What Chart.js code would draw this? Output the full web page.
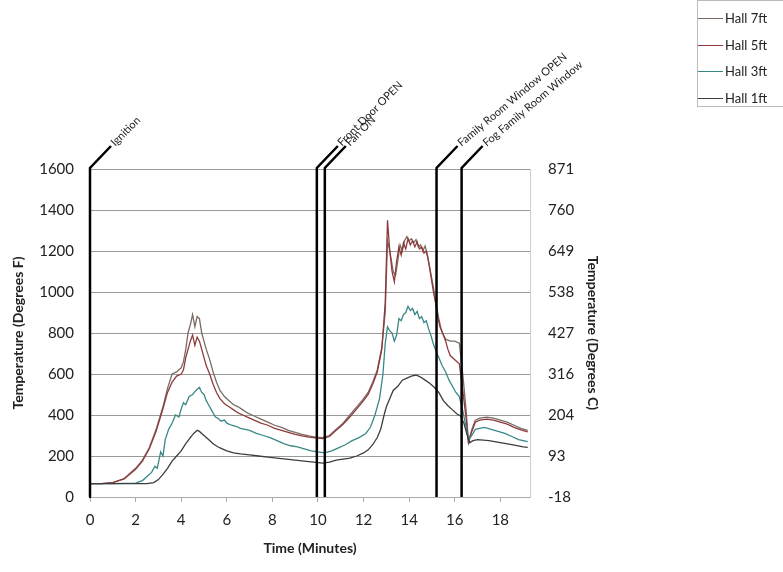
<!DOCTYPE html>
<html>
<head>
<meta charset="utf-8">
<script src="https://cdn.jsdelivr.net/npm/chart.js@4"></script>
<style>
  body { margin:0; background:#fff; }
  #wrap { position:relative; width:783px; height:572px; }
  #legend {
    position:absolute; left:697px; top:0; width:90px; height:107px;
    border:1px solid #bbb; box-sizing:border-box;
    font-family:Lato, sans-serif; font-size:13px; color:#222;
  }
  .item { position:absolute; left:0; display:flex; align-items:center; }
  .item span.ln { display:inline-block; width:25px; height:0; border-top:1.5px solid #555; margin-right:2px; }
</style>
</head>
<body>
<div id="wrap">
  <canvas id="c" width="783" height="572"></canvas>
  <div id="legend"></div>
</div>
<script>
// ── data ────────────────────────────────────────────────
const seriesNames = ['Hall 7ft', 'Hall 5ft', 'Hall 3ft', 'Hall 1ft'];
const seriesColors = ['#7a6c64', '#8e3a3a', '#3a8787', '#3d3d3d'];

const t7 = [0,0.5,1,1.5,2,2.3,2.6,2.9,3.2,3.4,3.6,3.8,4,4.1,4.2,4.3,4.4,4.5,4.6,4.7,4.8,4.9,5,5.1,5.25,5.4,5.55,5.7,5.9,6.1,6.3,6.5,6.7,6.9,7.2,7.5,7.8,8.1,8.4,8.7,9,9.3,9.6,9.9,10.2,10.5,10.8,11.1,11.4,11.7,12,12.2,12.4,12.6,12.8,12.95,13.05,13.15,13.3,13.4,13.5,13.6,13.7,13.8,13.9,14,14.1,14.2,14.3,14.4,14.5,14.6,14.7,14.8,14.9,15,15.1,15.2,15.3,15.4,15.5,15.6,15.8,16,16.2,16.35,16.5,16.6,16.75,16.9,17.1,17.4,17.7,18,18.3,18.6,18.9,19.2];
const f7 = [65,65,70,90,140,180,240,330,440,530,600,610,630,660,720,800,840,890,830,880,870,800,760,720,670,610,560,520,490,470,450,440,425,410,395,380,365,350,340,325,315,305,298,292,290,300,330,360,400,440,480,510,560,620,730,900,1250,1200,1100,1080,1150,1230,1200,1250,1270,1250,1260,1240,1255,1220,1230,1200,1225,1180,1120,1060,1000,930,870,820,790,770,760,760,750,600,420,270,330,375,385,390,385,375,365,350,335,325];

const t5 = [0,0.5,1,1.5,2,2.3,2.6,2.9,3.2,3.4,3.6,3.8,4,4.1,4.2,4.3,4.4,4.5,4.6,4.7,4.8,4.9,5,5.1,5.25,5.4,5.55,5.7,5.9,6.1,6.3,6.5,6.7,6.9,7.2,7.5,7.8,8.1,8.4,8.7,9,9.3,9.6,9.9,10.2,10.5,10.8,11.1,11.4,11.7,12,12.2,12.4,12.6,12.8,12.95,13.05,13.15,13.25,13.35,13.45,13.55,13.65,13.75,13.85,13.95,14.05,14.15,14.25,14.35,14.45,14.55,14.65,14.75,14.85,14.95,15.05,15.15,15.25,15.35,15.5,15.6,15.7,15.8,16,16.2,16.35,16.5,16.6,16.75,16.9,17.1,17.4,17.7,18,18.3,18.6,18.9,19.2];
const f5 = [65,65,70,88,135,175,235,320,430,510,560,590,600,620,680,720,760,790,740,780,760,720,680,640,600,550,510,480,455,440,425,410,400,390,375,360,350,335,325,315,305,298,292,288,285,295,325,355,390,430,470,500,550,610,720,950,1350,1200,1100,1050,1150,1220,1180,1240,1210,1260,1230,1250,1220,1245,1210,1220,1190,1200,1150,1080,1010,950,880,830,790,760,720,690,670,650,520,380,265,320,365,375,380,375,365,355,340,328,318];

const t3 = [0,1,2,2.3,2.5,2.7,2.85,2.95,3.1,3.2,3.3,3.45,3.6,3.75,3.9,4,4.1,4.2,4.35,4.5,4.65,4.8,4.9,5,5.1,5.2,5.35,5.5,5.6,5.75,5.9,6,6.2,6.4,6.6,6.8,7,7.3,7.6,7.9,8.2,8.5,8.8,9.1,9.4,9.7,10,10.3,10.6,10.9,11.2,11.5,11.8,12.1,12.3,12.5,12.7,12.85,12.95,13.05,13.15,13.25,13.35,13.45,13.55,13.65,13.75,13.85,13.95,14.05,14.15,14.25,14.35,14.45,14.55,14.65,14.75,14.85,14.95,15.05,15.15,15.3,15.45,15.6,15.75,15.9,16.05,16.2,16.35,16.5,16.6,16.75,16.9,17.1,17.3,17.6,17.9,18.2,18.5,18.8,19.2];
const f3 = [65,65,68,80,100,120,150,140,220,200,280,330,360,400,390,430,460,450,490,500,520,535,510,500,470,450,420,390,385,370,375,360,350,345,335,330,325,310,300,290,275,260,250,245,235,225,220,215,225,240,255,275,290,310,340,400,480,600,750,830,810,800,760,790,870,860,890,900,930,910,920,890,905,870,880,850,860,820,790,750,720,680,640,610,570,540,510,490,420,340,280,300,330,335,340,330,320,310,295,280,270];

const t1 = [0,1,2,2.5,2.8,3,3.2,3.4,3.6,3.8,4,4.2,4.4,4.55,4.7,4.8,4.9,5,5.2,5.4,5.6,5.8,6,6.3,6.6,7,7.4,7.8,8.2,8.6,9,9.4,9.8,10.2,10.5,10.8,11.1,11.4,11.7,12,12.2,12.4,12.6,12.75,12.9,13,13.15,13.3,13.5,13.7,13.9,14.1,14.3,14.5,14.7,14.9,15.1,15.3,15.5,15.7,15.9,16.1,16.25,16.4,16.55,16.65,16.8,17,17.5,18,18.5,19,19.2];
const f1 = [65,65,65,65,70,85,110,140,175,200,225,260,290,310,325,320,310,300,280,260,245,235,225,215,210,205,200,195,190,185,180,175,170,165,170,180,185,190,200,215,230,255,290,330,400,440,480,520,540,570,580,590,595,585,570,555,535,510,470,445,425,405,395,360,300,265,275,280,275,265,255,245,242];

const seriesTimes = [t7, t5, t3, t1];
const seriesValues = [f7, f5, f3, f1];

// event markers (minutes)
const eventTimes = [0, 9.95, 10.3, 15.2, 16.3];
const eventLabels = ['Ignition', 'Front Door OPEN', 'Fan ON', 'Family Room Window OPEN', 'Fog Family Room Window'];

// axis ticks
const xTicks = [0, 2, 4, 6, 8, 10, 12, 14, 16, 18];
const celsiusLabels = ['-18', '93', '204', '316', '427', '538', '649', '760', '871'];

// ── legend (html) ────────────────────────────────────────
const legend = document.getElementById('legend');
const legendTops = [9, 36, 62, 89];
seriesNames.forEach((name, i) => {
  const d = document.createElement('div');
  d.className = 'item';
  d.style.top = legendTops[i] + 'px';
  d.innerHTML = `<span class="ln" style="border-color:${seriesColors[i]}"></span>${name}`;
  legend.appendChild(d);
});

// ── event lines plugin ───────────────────────────────────
const labelAngles = [45, 45, 45, 40, 40];
const eventLines = {
  id: 'eventLines',
  afterDatasetsDraw(chart) {
    const { ctx, chartArea, scales } = chart;
    ctx.save();
    eventTimes.forEach((t, i) => {
      const px = scales.x.getPixelForValue(t);
      const top = chartArea.top - 1;
      const ex = px + 21, ey = top - 22;
      ctx.strokeStyle = '#000';
      ctx.lineWidth = 2.5;
      ctx.beginPath();
      ctx.moveTo(px, chartArea.bottom);
      ctx.lineTo(px, top);
      ctx.lineTo(ex, ey);
      ctx.stroke();
      ctx.translate(ex + 1, ey - 1);
      ctx.rotate(-labelAngles[i] * Math.PI / 180);
      ctx.fillStyle = '#222';
      ctx.font = '11px Lato, sans-serif';
      ctx.textAlign = 'left';
      ctx.textBaseline = 'middle';
      ctx.fillText(eventLabels[i], 1, 0);
      ctx.setTransform(1, 0, 0, 1, 0, 0);
    });
    ctx.restore();
  }
};

const tickFont = { family: 'Lato, sans-serif', size: 15 };
const titleFont = { family: 'Lato, sans-serif', size: 14, weight: 'bold' };

new Chart(document.getElementById('c'), {
  type: 'line',
  data: {
    datasets: seriesNames.map((name, i) => ({
      label: name,
      data: seriesTimes[i].map((t, j) => ({ x: t, y: seriesValues[i][j] })),
      borderColor: seriesColors[i],
      borderWidth: 1.3,
      pointRadius: 0,
      tension: 0,
      yAxisID: 'y',
    })).reverse()
  },
  options: {
    responsive: false,
    animation: false,
    layout: { padding: { top: 169, left: 8, right: 180, bottom: 0 } },
    plugins: { legend: { display: false }, tooltip: { enabled: false } },
    scales: {
      x: {
        type: 'linear', min: 0, max: 19.3,
        afterBuildTicks: s => { s.ticks = xTicks.map(v => ({ value: v })); },
        afterFit: s => { s.height = 75; },
        ticks: { color: '#222', font: tickFont, padding: 9, maxRotation: 0, callback: v => String(v) },
        grid: { drawOnChartArea: false, drawTicks: true, tickLength: 5, color: '#aaa' },
        border: { color: '#aaa', width: 1 },
        title: { display: true, text: 'Time (Minutes)', color: '#222', font: titleFont, padding: { top: 4, bottom: 15 } }
      },
      y: {
        position: 'left', min: 0, max: 1600,
        afterFit: s => { s.width = 82; },
        ticks: { stepSize: 200, color: '#222', font: tickFont, padding: 16, callback: v => String(v) },
        grid: { color: '#9a9a9a', lineWidth: 1, drawTicks: false },
        border: { color: '#000', width: 2 },
        title: { display: true, text: 'Temperature (Degrees F)', color: '#222', font: titleFont, padding: { top: 2, bottom: 0 } }
      },
      y2: {
        position: 'right', min: 0, max: 1600,
        afterFit: s => { s.width = 73; },
        ticks: { stepSize: 200, color: '#222', font: tickFont, padding: 18,
                 callback: (v, i) => celsiusLabels[i] },
        grid: { drawOnChartArea: false, drawTicks: false },
        border: { color: '#ccc', width: 1 },
        title: { display: true, text: 'Temperature (Degrees C)', color: '#222', font: titleFont, padding: { top: 2, bottom: 0 } }
      }
    }
  },
  plugins: [eventLines]
});
</script>
</body>
</html>
